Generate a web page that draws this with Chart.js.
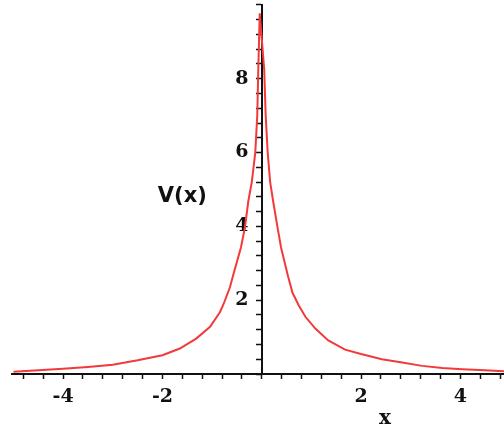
<!DOCTYPE html>
<html>
<head>
    <meta charset="UTF-8">
    <title>V(x)</title>
    <script src="https://cdn.jsdelivr.net/npm/chart.js@4.4.1/dist/chart.umd.min.js"></script>
    <style>
        body {
            margin: 0;
            background: white;
        }
        .wrap {
            width: 504px;
            height: 432px;
        }
    </style>
</head>
<body>
<div class="wrap">
    <canvas id="plot"></canvas>
</div>

<script>
    // curve points (left branch, then right branch)
    const xValues = [-5, -4.5, -4, -3.5, -3, -2.5, -2, -1.65, -1.32, -1.04, -0.84, -0.77, -0.64, -0.57,
        -0.42, -0.34, -0.27, -0.2, -0.13, -0.09, -0.07, -0.04,
        0.05, 0.08, 0.12, 0.17, 0.23, 0.32, 0.39, 0.53, 0.62, 0.75, 0.88, 1.08, 1.34, 1.68,
        2.0, 2.42, 2.83, 3.23, 3.64, 4.04, 4.5, 4.9];
    const vValues = [0.06, 0.1, 0.14, 0.19, 0.25, 0.37, 0.51, 0.69, 0.96, 1.28, 1.68, 1.89, 2.35, 2.7,
        3.42, 3.96, 4.68, 5.2, 6.0, 7.0, 8.2, 9.77,
        8.25, 7.0, 6.0, 5.2, 4.68, 3.96, 3.42, 2.65, 2.2, 1.85, 1.55, 1.23, 0.91, 0.66,
        0.54, 0.4, 0.31, 0.22, 0.16, 0.13, 0.1, 0.07];
    const xLabels = [-4, -2, 2, 4];
    const yLabels = [2, 4, 6, 8];

    // x labels are pushed down with lineHeight instead of padding,
    // padding would shrink the plot on the right
    const xTickFont = { family: 'DejaVu Serif', size: 19, weight: 'bold', lineHeight: 2.05 };
    // small lineHeight so the top tick does not push the plot down
    const yTickFont = { family: 'DejaVu Serif', size: 19, weight: 'bold', lineHeight: 0.2 };

    function labelFor(v, list, pad) {
        const r = Math.round(v);
        if (Math.abs(v - r) > 1e-6 || !list.includes(r)) return '';
        return String(r) + pad;
    }

    // axis titles sit inside the plot, so draw them at data positions
    const axisTitles = {
        id: 'axisTitles',
        afterDraw(chart) {
            const c = chart.ctx;
            const sx = chart.scales.x, sy = chart.scales.y;
            c.save();
            c.fillStyle = '#111';
            c.textAlign = 'center';
            c.textBaseline = 'middle';
            c.font = 'bold 21px "DejaVu Sans"';
            c.fillText('V(x)', sx.getPixelForValue(-1.6), sy.getPixelForValue(4.8));
            c.font = 'bold 20px "DejaVu Serif"';
            c.fillText('x', sx.getPixelForValue(2.48), sy.getPixelForValue(0) + 45);
            c.restore();
        }
    };

    const data = xValues.map((x, i) => ({ x: x, y: vValues[i] }));

    new Chart(document.getElementById('plot'), {
        type: 'scatter',
        data: {
            datasets: [{
                data: data,
                showLine: true,
                borderColor: '#f23a3a',
                borderWidth: 2,
                pointRadius: 0,
                tension: 0
            }]
        },
        options: {
            responsive: true,
            maintainAspectRatio: false,
            animation: false,
            layout: {
                padding: { left: 12, right: 0, top: 4, bottom: 58 }
            },
            plugins: {
                legend: { display: false },
                tooltip: { enabled: false }
            },
            scales: {
                x: {
                    type: 'linear',
                    min: -5.03,
                    max: 4.88,
                    position: { y: 0 },
                    border: { color: '#111', width: 2 },
                    grid: { drawOnChartArea: false, tickLength: 4, color: '#111', tickWidth: 1.5 },
                    ticks: {
                        stepSize: 0.4,
                        includeBounds: false,
                        autoSkip: false,
                        maxRotation: 0,
                        padding: 0,
                        color: '#111',
                        font: xTickFont,
                        callback: v => labelFor(v, xLabels, '')
                    }
                },
                y: {
                    type: 'linear',
                    min: 0,
                    max: 10,
                    position: { x: 0 },
                    border: { color: '#111', width: 2 },
                    grid: { drawOnChartArea: false, tickLength: 5, color: '#111', tickWidth: 1.5 },
                    ticks: {
                        stepSize: 0.4,
                        includeBounds: false,
                        autoSkip: false,
                        color: '#111',
                        font: yTickFont,
                        callback: v => labelFor(v, yLabels, '  ')
                    }
                }
            }
        },
        plugins: [axisTitles]
    });
</script>
</body>
</html>
